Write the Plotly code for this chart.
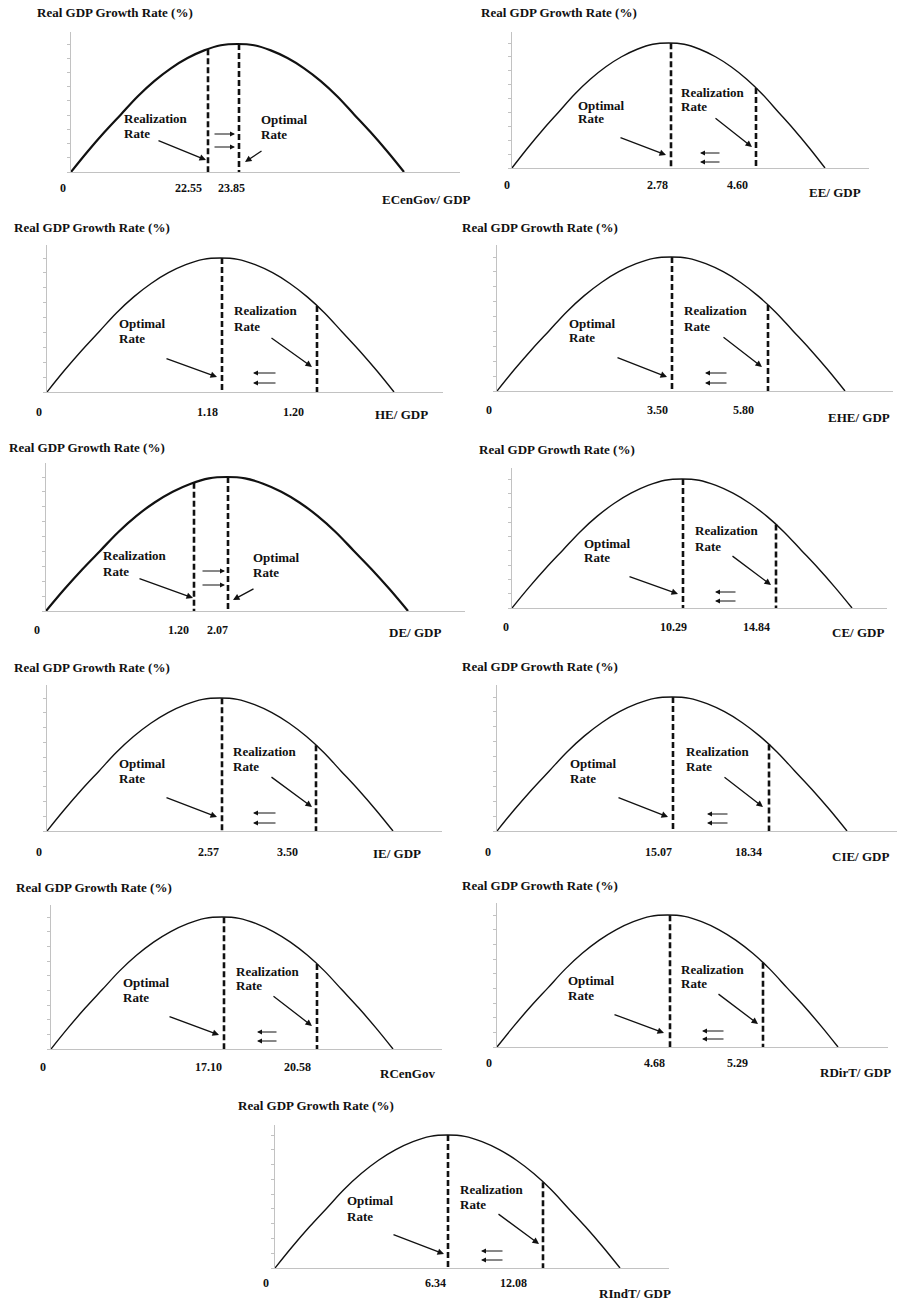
import numpy as np
import plotly.graph_objects as go

W, H = 899, 1302

# ---------------- data ----------------
y_title = "Real GDP Growth Rate (%)"
x_titles = ["ECenGov/ GDP", "EE/ GDP", "HE/ GDP", "EHE/ GDP", "DE/ GDP", "CE/ GDP",
            "IE/ GDP", "CIE/ GDP", "RCenGov", "RDirT/ GDP", "RIndT/ GDP"]
optimal_rates = [23.85, 2.78, 1.18, 3.50, 2.07, 10.29, 2.57, 15.07, 17.10, 4.68, 6.34]
realization_rates = [22.55, 4.60, 1.20, 5.80, 1.20, 14.84, 3.50, 18.34, 20.58, 5.29, 12.08]
# stylised growth curve: share of the way to the right root / share of peak height
curve_u = [0.00, 0.05, 0.10, 0.15, 0.20, 0.25, 0.30, 0.35, 0.40, 0.45, 0.50,
           0.55, 0.60, 0.65, 0.70, 0.75, 0.80, 0.85, 0.90, 0.95, 1.00]
curve_v = [0.00, 0.16, 0.31, 0.45, 0.59, 0.71, 0.81, 0.89, 0.95, 0.99, 1.00,
           0.99, 0.95, 0.89, 0.81, 0.71, 0.59, 0.45, 0.31, 0.16, 0.00]

# ---------------- panel geometry (pixels) ----------------
G = [
    dict(L=71, R=460, B=172, T=32, root=404, peak=44, lw=2.2, opt=239, real=208,
         title=(35, 13), tick_y=188, tick_x=(63, 231, 188), xt=(380, 199),
         opt_txt=(259, 119, 134), real_txt=(122, 118, 133),
         arr_opt=((263, 150), (245, 162)), arr_real=((157, 140), (206, 160)),
         small=(213, 235, 134, 147)),
    dict(L=512, R=869, B=168, T=32, root=825, peak=43, lw=1.4, opt=671, real=756,
         title=(479, 13), tick_y=185, tick_x=(507, 657, 737), xt=(807, 193),
         opt_txt=(576, 105, 118), real_txt=(679, 93, 107),
         arr_opt=((619, 137), (666, 155)), arr_real=((714, 117), (752, 147)),
         small=(700, 721, 153, 162)),
    dict(L=47, R=443, B=392, T=245, root=394, peak=258, lw=1.4, opt=222, real=317,
         title=(12, 227), tick_y=412, tick_x=(39, 207, 293), xt=(373, 415),
         opt_txt=(117, 323, 338), real_txt=(232, 311, 326),
         arr_opt=((165, 358), (217, 377)), arr_real=((270, 337), (312, 367)),
         small=(253, 277, 373, 383)),
    dict(L=497, R=893, B=391, T=245, root=845, peak=257, lw=1.4, opt=672, real=768,
         title=(460, 227), tick_y=410, tick_x=(489, 657, 743), xt=(826, 417),
         opt_txt=(567, 323, 337), real_txt=(682, 311, 326),
         arr_opt=((616, 357), (667, 377)), arr_real=((722, 336), (762, 367)),
         small=(705, 728, 373, 383)),
    dict(L=46, R=465, B=611, T=463, root=408, peak=477, lw=2.2, opt=228, real=194,
         title=(7, 447), tick_y=630, tick_x=(37, 217, 178), xt=(387, 633),
         opt_txt=(251, 557, 573), real_txt=(101, 555, 571),
         arr_opt=((255, 588), (233, 600)), arr_real=((138, 578), (193, 598)),
         small=(201, 225, 571, 585)),
    dict(L=512, R=887, B=608, T=468, root=852, peak=479, lw=1.4, opt=683, real=776,
         title=(477, 449), tick_y=627, tick_x=(506, 673, 756), xt=(830, 632),
         opt_txt=(582, 543, 557), real_txt=(693, 531, 546),
         arr_opt=((628, 576), (678, 594)), arr_real=((731, 555), (771, 585)),
         small=(715, 737, 592, 601)),
    dict(L=47, R=442, B=831, T=685, root=393, peak=698, lw=1.4, opt=222, real=316,
         title=(12, 667), tick_y=852, tick_x=(39, 208, 287), xt=(371, 853),
         opt_txt=(117, 763, 778), real_txt=(231, 751, 766),
         arr_opt=((165, 797), (217, 817)), arr_real=((270, 776), (312, 807)),
         small=(253, 277, 813, 823)),
    dict(L=497, R=897, B=831, T=685, root=847, peak=697, lw=1.4, opt=673, real=769,
         title=(460, 666), tick_y=852, tick_x=(488, 658, 748), xt=(830, 856),
         opt_txt=(568, 763, 778), real_txt=(684, 751, 766),
         arr_opt=((617, 797), (668, 817)), arr_real=((723, 776), (763, 807)),
         small=(707, 729, 814, 823)),
    dict(L=51, R=442, B=1049, T=905, root=393, peak=917, lw=1.4, opt=224, real=317,
         title=(14, 887), tick_y=1067, tick_x=(43, 208, 297), xt=(378, 1073),
         opt_txt=(121, 982, 997), real_txt=(234, 971, 985),
         arr_opt=((168, 1016), (219, 1035)), arr_real=((272, 995), (312, 1026)),
         small=(257, 278, 1032, 1041)),
    dict(L=497, R=888, B=1047, T=903, root=838, peak=915, lw=1.4, opt=670, real=763,
         title=(460, 885), tick_y=1063, tick_x=(489, 654, 737), xt=(818, 1072),
         opt_txt=(566, 980, 995), real_txt=(679, 969, 983),
         arr_opt=((613, 1014), (664, 1033)), arr_real=((717, 993), (758, 1024)),
         small=(702, 725, 1031, 1039)),
    dict(L=275, R=669, B=1268, T=1125, root=620, peak=1135, lw=1.4, opt=448, real=543,
         title=(236, 1105), tick_y=1283, tick_x=(266, 435, 513), xt=(597, 1293),
         opt_txt=(345, 1200, 1216), real_txt=(458, 1189, 1204),
         arr_opt=((392, 1234), (444, 1254)), arr_real=((497, 1213), (539, 1244)),
         small=(481, 504, 1251, 1260)),
]

FONT = "Liberation Serif"
AXIS_COLOR = "#c2c2c2"


def pp(px, py):
    return px / W, 1 - py / H


fig = go.Figure()
axes = {}
ann = []


def text(px, py, s, size=13, anchor="left"):
    x, y = pp(px, py)
    ann.append(dict(x=x, y=y, xref="paper", yref="paper", text=f"<b>{s}</b>",
                    showarrow=False, xanchor=anchor, yanchor="middle",
                    font=dict(family=FONT, size=size, color="#111111")))


def arrow(tail, head, width=1.3, size=1.0):
    x, y = pp(*head)
    ann.append(dict(x=x, y=y, xref="paper", yref="paper", text="",
                    ax=tail[0] - head[0], ay=tail[1] - head[1],
                    showarrow=True, arrowhead=2, arrowsize=size, arrowwidth=width,
                    arrowcolor="#111111", standoff=0))


for i, g in enumerate(G):
    n = i + 1
    xa = "x" if n == 1 else f"x{n}"
    ya = "y" if n == 1 else f"y{n}"
    sx = g["root"] - g["L"]
    sy = g["B"] - g["peak"]
    axes["xaxis" if n == 1 else f"xaxis{n}"] = dict(
        domain=[g["L"] / W, g["R"] / W], range=[0, (g["R"] - g["L"]) / sx], anchor=ya,
        showline=True, linecolor=AXIS_COLOR, linewidth=1, showgrid=False, zeroline=False,
        showticklabels=False, ticks="", fixedrange=True)
    axes["yaxis" if n == 1 else f"yaxis{n}"] = dict(
        domain=[1 - g["B"] / H, 1 - g["T"] / H], range=[0, (g["B"] - g["T"]) / sy], anchor=xa,
        showline=True, linecolor=AXIS_COLOR, linewidth=1, showgrid=False, zeroline=False,
        showticklabels=False, ticks="outside", ticklen=3, tickcolor=AXIS_COLOR, tickwidth=1,
        tickvals=[k / 9 for k in range(10)], fixedrange=True)

    fig.add_trace(go.Scatter(x=curve_u, y=curve_v, mode="lines", xaxis=xa, yaxis=ya,
                             line=dict(color="#111111", width=g["lw"], shape="spline", smoothing=1.0),
                             hoverinfo="skip"))
    for pos in (g["opt"], g["real"]):
        u = (pos - g["L"]) / sx
        v = float(np.interp(u, curve_u, curve_v))
        fig.add_trace(go.Scatter(x=[u, u], y=[v, 0], mode="lines", xaxis=xa, yaxis=ya,
                                 line=dict(color="#111111", width=2.6, dash="6px,3px"),
                                 hoverinfo="skip"))

    # texts
    text(g["title"][0], g["title"][1], y_title)
    text(g["xt"][0], g["xt"][1], x_titles[i])
    text(g["tick_x"][0], g["tick_y"], "0", size=12, anchor="center")
    text(g["tick_x"][1], g["tick_y"], f"{optimal_rates[i]:.2f}", size=12, anchor="center")
    text(g["tick_x"][2], g["tick_y"], f"{realization_rates[i]:.2f}", size=12, anchor="center")
    text(g["opt_txt"][0], g["opt_txt"][1], "Optimal")
    text(g["opt_txt"][0], g["opt_txt"][2], "Rate")
    text(g["real_txt"][0], g["real_txt"][1], "Realization")
    text(g["real_txt"][0], g["real_txt"][2], "Rate")

    arrow(*g["arr_opt"])
    arrow(*g["arr_real"])
    xl, xr, y1, y2 = g["small"]
    increase = realization_rates[i] < optimal_rates[i]
    for yy in (y1, y2):
        if increase:
            arrow((xl, yy), (xr, yy), width=1.0, size=1.0)
        else:
            arrow((xr, yy), (xl, yy), width=1.0, size=1.0)

fig.update_layout(width=W, height=H, margin=dict(l=0, r=0, t=0, b=0),
                  paper_bgcolor="white", plot_bgcolor="white", showlegend=False,
                  annotations=ann, **axes)

fig.write_html("out.html", config={"displayModeBar": False},
               post_script="document.body.style.margin='0';document.body.style.padding='0';"
                           "document.body.style.overflow='hidden';")
